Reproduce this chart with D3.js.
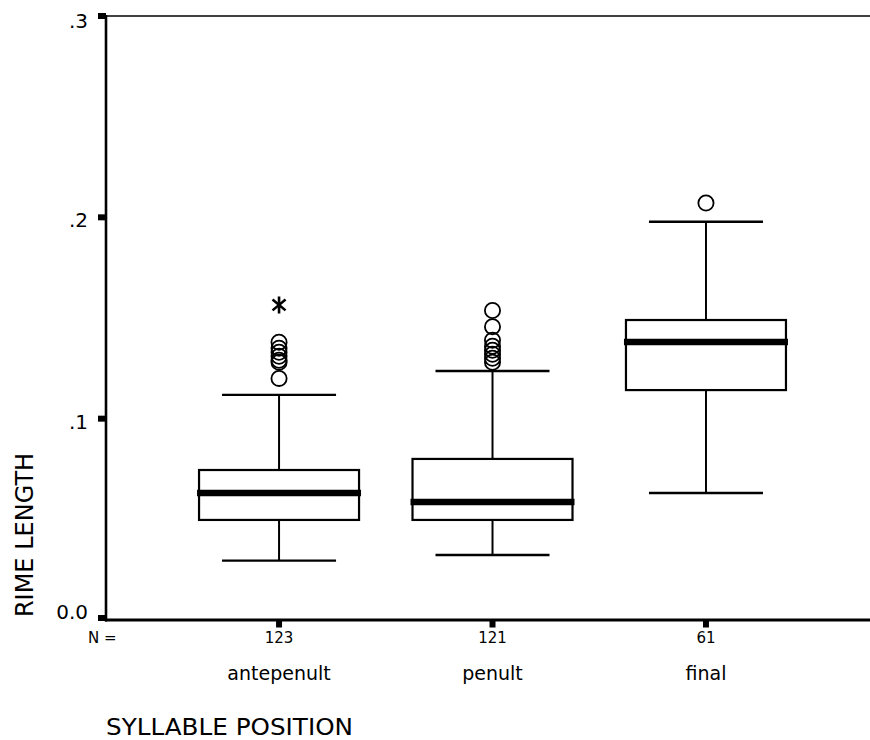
<!DOCTYPE html>
<html>
<head>
<meta charset="utf-8">
<script src="https://cdn.jsdelivr.net/npm/d3@7"></script>
<style>
  html, body { margin: 0; padding: 0; background: #fff; }
  svg { display: block; }
  text { font-family: "DejaVu Sans", sans-serif; fill: #000; }
</style>
</head>
<body>
<svg id="chart" width="870" height="740"></svg>
<script>
// ---- data ----
const categories = ["antepenult", "penult", "final"];
const nCounts = [123, 121, 61];
const lowerWhisker = [0.0295, 0.0323, 0.0631];
const q1 = [0.0497, 0.0497, 0.1142];
const median = [0.0631, 0.0586, 0.1381];
const q3 = [0.0745, 0.0800, 0.1490];
const upperWhisker = [0.1118, 0.1237, 0.1978];
const outliers = [
  [0.138, 0.135, 0.133, 0.131, 0.129, 0.128, 0.120],
  [0.1537, 0.1457, 0.139, 0.136, 0.134, 0.132, 0.130, 0.128],
  [0.2071]
];
const extremes = [[0.1565], [], []];
const yTicks = [0, 0.1, 0.2, 0.3];
const yTickLabels = ["0.0", ".1", ".2", ".3"];
const xTitle = "SYLLABLE POSITION";
const yTitle = "RIME LENGTH";

// ---- layout ----
const M = { left: 106, right: 870, top: 16, bottom: 620 };
const svg = d3.select("#chart");

const y = d3.scaleLinear().domain([0, 0.3]).range([M.bottom, M.top]);
const x = d3.scalePoint().domain(categories)
  .range([M.left + (M.right - M.left) * 0.2265, M.left + (M.right - M.left) * 0.7853]);

const boxHalf = 80, capHalf = 57;

// asterisk symbol for extreme values
function asteriskPath(r) {
  const p = d3.path();
  const a = 40 * Math.PI / 180;
  p.moveTo(0, -r); p.lineTo(0, r);
  p.moveTo(-r * Math.cos(a), -r * Math.sin(a)); p.lineTo(r * Math.cos(a), r * Math.sin(a));
  p.moveTo(-r * Math.cos(a), r * Math.sin(a)); p.lineTo(r * Math.cos(a), -r * Math.sin(a));
  return p.toString();
}

// top border
svg.append("line").attr("x1", M.left).attr("x2", M.right).attr("y1", M.top).attr("y2", M.top)
  .attr("stroke", "#000").attr("stroke-width", 1.6);

// boxes
const g = svg.append("g");
categories.forEach((c, i) => {
  const cx = x(c);
  g.append("line").attr("x1", cx).attr("x2", cx).attr("y1", y(q3[i])).attr("y2", y(upperWhisker[i]))
    .attr("stroke", "#000").attr("stroke-width", 2);
  g.append("line").attr("x1", cx).attr("x2", cx).attr("y1", y(q1[i])).attr("y2", y(lowerWhisker[i]))
    .attr("stroke", "#000").attr("stroke-width", 2);
  g.append("line").attr("x1", cx - capHalf).attr("x2", cx + capHalf)
    .attr("y1", y(upperWhisker[i])).attr("y2", y(upperWhisker[i]))
    .attr("stroke", "#000").attr("stroke-width", 2.4);
  g.append("line").attr("x1", cx - capHalf).attr("x2", cx + capHalf)
    .attr("y1", y(lowerWhisker[i])).attr("y2", y(lowerWhisker[i]))
    .attr("stroke", "#000").attr("stroke-width", 2.4);
  g.append("rect").attr("x", cx - boxHalf).attr("width", boxHalf * 2)
    .attr("y", y(q3[i])).attr("height", y(q1[i]) - y(q3[i]))
    .attr("fill", "#fff").attr("stroke", "#000").attr("stroke-width", 2.2);
  g.append("line").attr("x1", cx - boxHalf - 2).attr("x2", cx + boxHalf + 2)
    .attr("y1", y(median[i])).attr("y2", y(median[i]))
    .attr("stroke", "#000").attr("stroke-width", 6.5);
  outliers[i].forEach(v => {
    g.append("circle").attr("cx", cx).attr("cy", y(v)).attr("r", 7.6)
      .attr("fill", "none").attr("stroke", "#000").attr("stroke-width", 1.8);
  });
  extremes[i].forEach(v => {
    g.append("path").attr("transform", `translate(${cx},${y(v)})`)
      .attr("d", asteriskPath(8.5))
      .attr("fill", "none").attr("stroke", "#000").attr("stroke-width", 2.6);
  });
});

// axes lines
svg.append("line").attr("x1", M.left).attr("x2", M.left).attr("y1", M.top - 1).attr("y2", M.bottom + 1.5)
  .attr("stroke", "#000").attr("stroke-width", 2.6);
svg.append("line").attr("x1", M.left - 1).attr("x2", M.right).attr("y1", M.bottom).attr("y2", M.bottom)
  .attr("stroke", "#000").attr("stroke-width", 3);

// y axis ticks & labels
const yAxis = svg.append("g");
yTicks.forEach((t, i) => {
  const ty = y(t) - (t === 0 ? 2 : 0);
  yAxis.append("line").attr("x1", M.left - 8).attr("x2", M.left).attr("y1", ty).attr("y2", ty)
    .attr("stroke", "#000").attr("stroke-width", 6);
  const nudge = t === 0 ? -1 : (t >= 0.3 ? 12 : 10);
  yAxis.append("text").attr("x", M.left - 18).attr("y", y(t) + nudge)
    .attr("text-anchor", "end").style("font-size", "20px").text(yTickLabels[i]);
});

// x ticks, N labels, category labels
svg.append("text").attr("x", 88).attr("y", 643).style("font-size", "15px").text("N =");
categories.forEach((c, i) => {
  const cx = x(c);
  svg.append("line").attr("x1", cx).attr("x2", cx).attr("y1", M.bottom).attr("y2", M.bottom + 7.5)
    .attr("stroke", "#000").attr("stroke-width", 6);
  svg.append("text").attr("x", cx).attr("y", 643).attr("text-anchor", "middle")
    .style("font-size", "15px").text(nCounts[i]);
  svg.append("text").attr("x", cx).attr("y", 680).attr("text-anchor", "middle")
    .style("font-size", "19px").text(c);
});

// titles
svg.append("text").attr("x", 106).attr("y", 734.5).style("font-size", "23px")
  .attr("textLength", 247).attr("lengthAdjust", "spacingAndGlyphs").text(xTitle);
svg.append("text").attr("transform", `translate(33,535) rotate(-90)`)
  .attr("text-anchor", "middle").style("font-size", "24px").text(yTitle);
</script>
</body>
</html>
